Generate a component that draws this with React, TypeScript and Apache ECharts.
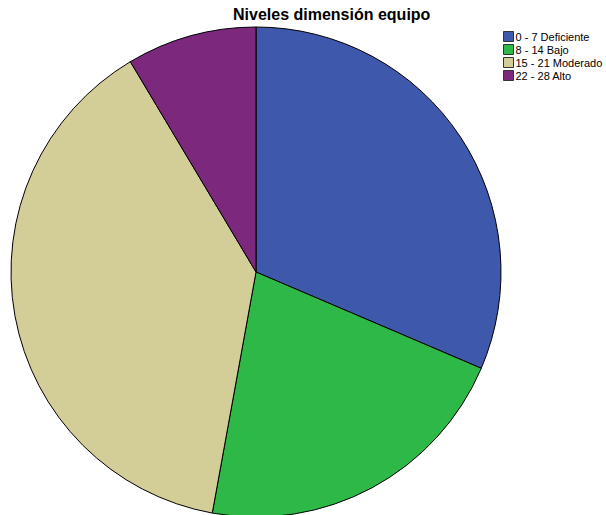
import React, { useEffect, useRef } from "react";
import * as echarts from "echarts";

const categories = ["0 - 7 Deficiente", "8 - 14 Bajo", "15 - 21 Moderado", "22 - 28 Alto"];
const counts = [22, 15, 27, 6];
const colors = ["#3E58AC", "#2EB848", "#D3CE97", "#7C287D"];
const titleText = "Niveles dimensión equipo";

export default function App() {
  const ref = useRef<HTMLDivElement>(null);
  useEffect(() => {
    if (!ref.current) return;
    const chart = echarts.init(ref.current, null, { renderer: "svg" });
    chart.setOption({
      animation: false,
      backgroundColor: "#ffffff",
      title: {
        text: titleText,
        left: 233,
        top: 6,
        padding: 0,
        textStyle: { fontFamily: "Arial, Liberation Sans", fontSize: 16, fontWeight: "bold", color: "#000" },
      },
      legend: {
        orient: "vertical",
        left: 503,
        top: 31,
        padding: 0,
        itemWidth: 10,
        itemHeight: 10,
        itemGap: 2,
        icon: "rect",
        selectedMode: false,
        textStyle: { fontFamily: "Arial, Liberation Sans", fontSize: 11, color: "#000", padding: [0, 0, 0, -3] },
        itemStyle: { borderColor: "#333", borderWidth: 1 },
        data: categories,
      },
      series: [
        {
          type: "pie",
          center: [256, 272],
          radius: 245,
          startAngle: 90,
          clockwise: true,
          label: { show: false },
          labelLine: { show: false },
          emphasis: { disabled: true },
          itemStyle: { borderColor: "#000", borderWidth: 1 },
          data: categories.map((c, i) => ({ name: c, value: counts[i], itemStyle: { color: colors[i] } })),
        },
      ],
    });
    return () => chart.dispose();
  }, []);
  return <div ref={ref} style={{ position: "fixed", left: 0, top: 0, width: 606, height: 515 }} />;
}
